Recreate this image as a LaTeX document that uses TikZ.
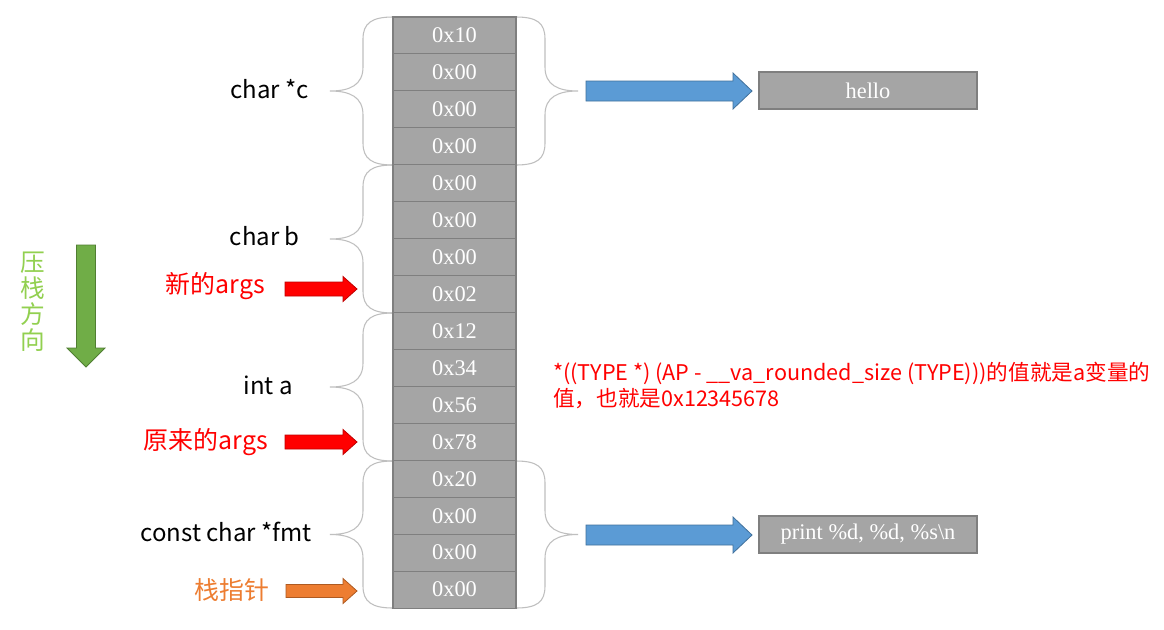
\documentclass[tikz,border=0pt]{standalone}
\usepackage{fontspec}
\setmainfont{Liberation Serif}
\newfontfamily\cjk{Noto Sans CJK SC}
\definecolor{cellfill}{HTML}{A5A5A5}
\definecolor{celldraw}{HTML}{7F7F7F}
\definecolor{bracegray}{HTML}{BFBFBF}
\definecolor{bluefill}{HTML}{5B9BD5}
\definecolor{bluedraw}{HTML}{41719C}
\definecolor{greenfill}{HTML}{70AD47}
\definecolor{greendraw}{HTML}{507E32}
\definecolor{greentext}{HTML}{92D050}
\definecolor{orangefill}{HTML}{ED7D31}
\definecolor{orangedraw}{HTML}{AE5A21}
\definecolor{redfill}{HTML}{FF0000}
\definecolor{reddraw}{HTML}{C00000}
\tikzset{
  cell/.style={draw=celldraw, fill=cellfill, line width=0.8pt, minimum width=92.25pt, minimum height=27.7pt, inner sep=0pt, text=white, font=\fontsize{16.8}{18}\selectfont},
  valbox/.style={draw=celldraw, fill=cellfill, line width=0.8pt, minimum width=163.5pt, minimum height=27.75pt, inner sep=0pt, text=white, font=\fontsize{16.8}{18}\selectfont},
  bracepath/.style={draw=bracegray, line width=0.8pt},
  lbl/.style={font=\cjk\fontsize{18}{20}\selectfont, anchor=east, inner sep=0pt},
  cjklbl/.style={font=\cjk\fontsize{18.7}{20}\selectfont, anchor=east, inner sep=0pt},
  bluearr/.style={fill=bluefill, draw=bluedraw, line width=0.6pt},
  redarr/.style={fill=redfill, draw=reddraw, line width=0.6pt},
  orangearr/.style={fill=orangefill, draw=orangedraw, line width=0.6pt},
  greenarr/.style={fill=greenfill, draw=greendraw, line width=0.6pt},
}
% #1 style, #2 x0, #3 x1, #4 y, #5 shaft half, #6 head half, #7 head length
\newcommand\HArr[7]{%
  \path[#1] (#2,#4-#5) -- (#3-#7,#4-#5) -- (#3-#7,#4-#6) -- (#3,#4) -- (#3-#7,#4+#6) -- (#3-#7,#4+#5) -- (#2,#4+#5) -- cycle;}
% #1 style, #2 y0, #3 y1, #4 x, #5 shaft half, #6 head half, #7 head length
\newcommand\VArr[7]{%
  \path[#1] (#4-#5,#2) -- (#4-#5,#3-#7) -- (#4-#6,#3-#7) -- (#4,#3) -- (#4+#6,#3-#7) -- (#4+#5,#3-#7) -- (#4+#5,#2) -- cycle;}
\newcommand\LBr[2]{%
  \pgfmathsetmacro\bm{(#1+#2)/2}%
  \draw[bracepath] (393,#1) .. controls (372,#1) and (363,#1+6) .. (363,#1+22) -- (363,\bm-24) .. controls (363,\bm-6) and (350,\bm) .. (330,\bm) .. controls (350,\bm) and (363,\bm+6) .. (363,\bm+24) -- (363,#2-22) .. controls (363,#2-6) and (372,#2) .. (393,#2);}
\newcommand\RBr[2]{%
  \pgfmathsetmacro\bm{(#1+#2)/2}%
  \draw[bracepath] (516,#1) .. controls (537,#1) and (545,#1+6) .. (545,#1+22) -- (545,\bm-24) .. controls (545,\bm-6) and (558,\bm) .. (578,\bm) .. controls (558,\bm) and (545,\bm+6) .. (545,\bm+24) -- (545,#2-22) .. controls (545,#2-6) and (537,#2) .. (516,#2);}
\begin{document}
\begin{tikzpicture}[x=0.75pt,y=-0.75pt]
\useasboundingbox[fill=white] (0,0) rectangle (1164,629);
% braces
\LBr{17}{165}
\LBr{165}{313}
\LBr{313}{461}
\LBr{461}{608}
\RBr{17}{165}
\RBr{461}{608}
% cells
\foreach \v [count=\i from 0] in {0x10,0x00,0x00,0x00,0x00,0x00,0x00,0x02,0x12,0x34,0x56,0x78,0x20,0x00,0x00,0x00}{
  \node[cell] (c\i) at (454.5,{17+36.94*(\i+0.5)}) {\v};
}
% value boxes
\node[valbox] (hello) at (868,90.5) {hello};
\node[valbox] (fmtstr) at (868,534.5) {print \%d, \%d, \%s\textbackslash n};
% blue arrows
\HArr{bluearr}{586}{752}{91}{10}{18}{19}
\HArr{bluearr}{586}{752}{535}{10}{18}{19}
% labels
\node[lbl] (lc) at (309,89) {char *c};
\node[lbl] (lb) at (300,236) {char b};
\node[lbl] (la) at (293,385) {int a};
\node[lbl] (lf) at (312,532) {const char *fmt};
\node[cjklbl, text=red] (lnew) at (265,286) {新的args};
\node[cjklbl, text=red] (lold) at (268,442) {原来的args};
\node[cjklbl, text=orangefill] (lsp) at (270,590) {栈指针};
% small arrows
\HArr{redarr}{285}{357}{289}{7}{12.5}{14}
\HArr{redarr}{285}{357}{442}{7}{12.5}{14}
\HArr{orangearr}{286}{357}{591}{6.5}{12.5}{14}
% green arrow
\VArr{greenarr}{245}{367}{86}{9.5}{19}{19}
\node[font=\cjk\fontsize{18.5}{19.5}\selectfont, text=greentext, align=center, inner sep=0pt] (dir) at (33,302) {压\\栈\\方\\向};
% note
\node[font=\cjk\fontsize{16.2}{19.5}\selectfont, text=red, align=left, anchor=north west, inner sep=0pt] (note) at (553,362) {*((TYPE *) (AP - \_\_va\_rounded\_size (TYPE)))的值就是a变量的\\值，也就是0x12345678};
\end{tikzpicture}
\end{document}
